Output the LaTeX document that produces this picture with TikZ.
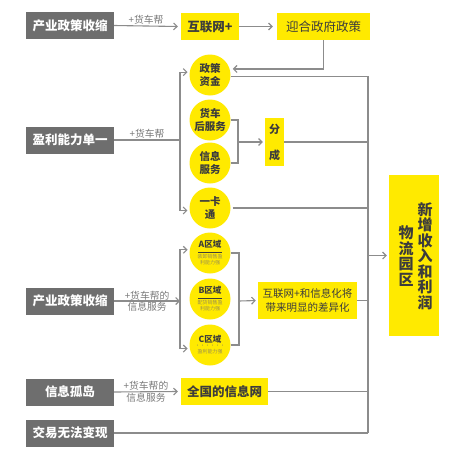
\documentclass[tikz,border=0pt]{standalone}
\usepackage{fontspec}
\setmainfont{Noto Sans CJK SC}
\usetikzlibrary{arrows.meta,calc}
\definecolor{boxgray}{HTML}{6E6E6E}
\definecolor{yel}{HTML}{FFEA00}
\definecolor{linegray}{HTML}{8C8C8C}
\definecolor{ytext}{HTML}{3C3C3C}
\definecolor{labgray}{HTML}{7A7A7A}
\definecolor{smallgray}{HTML}{9A8F50}
\newcommand\smtxt{\fontsize{5}{6}\selectfont\mdseries\color{smallgray}}
\begin{document}
\begin{tikzpicture}[x=1pt,y=-1pt,
  graybox/.style={fill=boxgray,text=white,font=\bfseries\fontsize{12.5}{14}\selectfont,minimum width=88pt,minimum height=27pt,inner sep=0pt},
  ybox/.style={fill=yel,text=ytext,font=\bfseries\fontsize{12.5}{14}\selectfont,minimum height=27pt,inner sep=0pt},
  circ/.style={circle,fill=yel,text=ytext,minimum size=41pt,inner sep=0pt,align=center,font=\bfseries\fontsize{10.5}{12.5}\selectfont},
  zone/.style={circle,fill=yel,text=ytext,minimum size=41pt,inner sep=0pt,align=center,font=\bfseries\fontsize{8.5}{9}\selectfont},
  lab/.style={text=labgray,font=\fontsize{9.8}{11}\selectfont,inner sep=1.5pt,align=center},
  conn/.style={draw=linegray,line width=1.1pt},
  arr/.style={conn,-{Straight Barb[length=3.5pt,width=7pt]}},
]
\useasboundingbox[fill=white] (0,0) rectangle (450,458);

% left gray boxes
\node[graybox] (g1) at (70,25.5) {产业政策收缩};
\node[graybox] (g2) at (70,140) {盈利能力单一};
\node[graybox] (g3) at (70,301) {产业政策收缩};
\node[graybox] (g4) at (70,392) {信息孤岛};
\node[graybox] (g5) at (70,433) {交易无法变现};

% top row
\node[ybox,minimum width=58pt] (y1) at (210,26.5) {互联网+};
\node[ybox,minimum width=93pt,font=\fontsize{12.5}{14}\selectfont] (y2) at (323.5,26.5) {迎合政府政策};

% circles
\node[circ] (c1) at (210,75) {政策\\资金};
\node[circ] (c2) at (210,120) {货车\\后服务};
\node[circ] (c3) at (210,163) {信息\\服务};
\node[circ] (c4) at (210,208) {一卡\\通};

\node[fill=yel,text=ytext,minimum width=19pt,minimum height=48pt,inner sep=0pt,align=center,font=\bfseries\fontsize{11}{26}\selectfont] (fc) at (274.5,142) {分\\成};

\node[zone] (cA) at (210,253) {A区域\\[-4pt]\rule{24pt}{0.5pt}\\[-3pt]{\smtxt 装卸销售盈}\\[-3pt]{\smtxt 利能力强}};
\node[zone] (cB) at (210,299) {B区域\\[-4pt]\rule{24pt}{0.5pt}\\[-3pt]{\smtxt 配货销售盈}\\[-3pt]{\smtxt 利能力强}};
\node[zone] (cC) at (210,345) {C区域\\[-4pt]{\smtxt ······}\\[-3pt]{\smtxt 盈利能力强}};

\node[fill=yel,text=ytext,minimum width=99pt,minimum height=37pt,inner sep=0pt,align=center,font=\fontsize{10.5}{14}\selectfont] (ym) at (307.5,300.5) {互联网+和信息化将\\带来明显的差异化};

\node[ybox,minimum width=87pt] (y3) at (224.5,391.5) {全国的信息网};

% big box
\node[fill=yel,minimum width=50pt,minimum height=161pt,inner sep=0pt] (big) at (414,255.5) {};
\node[text=ytext,align=center,inner sep=0pt,font=\bfseries\fontsize{15}{15.5}\selectfont] (t1) at (425,256) {新\\增\\收\\入\\和\\利\\润};
\node[text=ytext,align=center,inner sep=0pt,font=\bfseries\fontsize{15}{15.5}\selectfont] (t2) at (406,256) {物\\流\\园\\区};

% coordinates
\coordinate (bt) at (368,433);
\coordinate (f1) at (180,140);
\coordinate (b1) at (238,142);
\coordinate (f3) at (180,301);
\coordinate (b2) at (239,301);

% connectors
\draw[arr] (g1.east) -- node[lab,above] {+货车帮} ([xshift=-3pt]y1.west);
\draw[arr] (y1.east) -- ([xshift=-4pt]y2.west);
\draw[arr] (y2.south) |- ([xshift=3pt]c1.17);
\draw[conn] (c1.-3) -| (bt);

\draw[conn] (g2.east) -- node[lab,above] {+货车帮} (f1);
\draw[arr,shorten >=2pt] (f1) |- (c1.172);
\draw[arr,shorten >=2pt] (f1) |- (c4.187);
\draw[conn] (c2.east) -| (b1);
\draw[conn] (c3.east) -| (b1);
\draw[arr,shorten >=2pt] (b1) -- (fc.west);
\draw[conn] (fc.east) -- (fc.east -| bt);
\draw[conn] ([xshift=2pt]c4.east) -- (c4.east -| bt);

\draw[arr] (g3.east) -- node[lab,above,yshift=-1pt] {+货车帮的} node[lab,below,yshift=1pt] {信息服务} (f3);
\draw[arr,shorten >=2pt] (f3) |- (cA.171);
\draw[arr,shorten >=2pt] (f3) |- (cC.190);
\draw[conn] (cA.east) -| (b2);
\draw[conn] (cC.east) -| (b2);
\draw[arr,shorten >=2pt] (b2) -- (ym.west);
\draw[conn] (ym.east) -- (ym.east -| bt);

\draw[arr] (g4.east) -- node[lab,above,yshift=-1pt] {+货车帮的} node[lab,below,yshift=1pt] {信息服务} ([xshift=-3pt]y3.west);
\draw[conn] (y3.east) -- (y3.east -| bt);
\draw[conn] (g5.east) -- (bt);

\draw[arr,shorten >=2pt] (bt |- big.west) -- (big.west);
\end{tikzpicture}
\end{document}
